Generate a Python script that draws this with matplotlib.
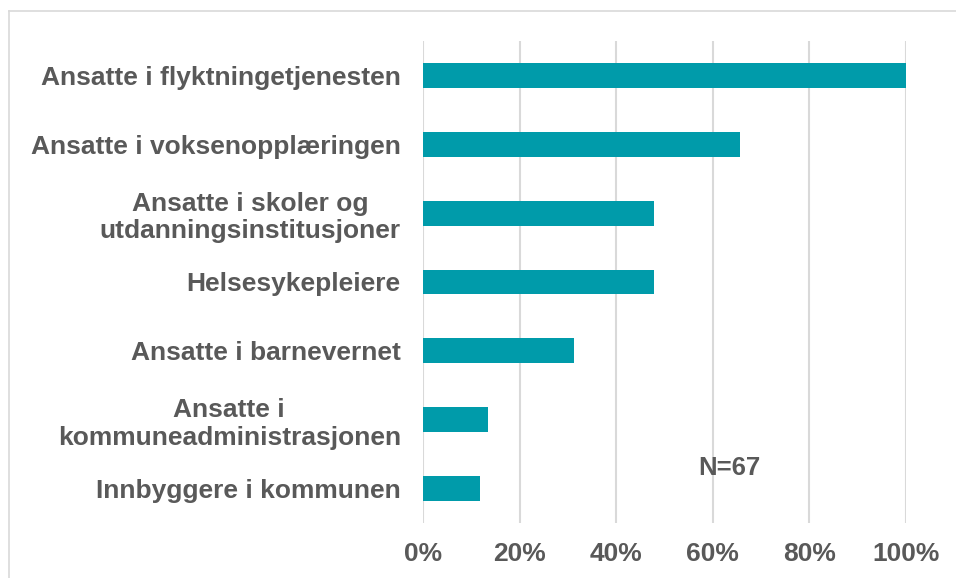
import matplotlib.pyplot as plt
from matplotlib.lines import Line2D

plt.rcParams['font.family'] = ['Liberation Sans', 'DejaVu Sans']

categories = ['Ansatte i flyktningetjenesten',
              'Ansatte i voksenopplæringen',
              'Ansatte i skoler og\nutdanningsinstitusjoner',
              'Helsesykepleiere',
              'Ansatte i barnevernet',
              'Ansatte i\nkommuneadministrasjonen',
              'Innbyggere i kommunen']
values = [100.0, 65.7, 47.8, 47.8, 31.3, 13.4, 11.9]
xticks = [0, 20, 40, 60, 80, 100]
note = 'N=67'

GREY = '#595959'
BAR = '#009BAA'

fig = plt.figure(figsize=(9.56, 5.78), dpi=100)
ax = fig.add_axes([423 / 956, 1 - 523 / 578, (906 - 423) / 956, (523 - 41) / 578])

y = range(len(categories))
ax.barh(y, values, height=0.36, color=BAR, zorder=3)
ax.set_ylim(len(categories) - 0.5, -0.5)
ax.set_xlim(0, 100)

ax.set_yticks(list(y))
ax.set_yticklabels(categories, fontsize=19, fontweight='bold', color=GREY,
                   ha='right', multialignment='center')
ax.set_xticks(xticks)
ax.set_xticklabels([f'{t}%' for t in xticks], fontsize=19, fontweight='bold', color=GREY)
ax.tick_params(axis='both', length=0)
ax.tick_params(axis='y', pad=16)
ax.tick_params(axis='x', pad=14)

ax.grid(axis='x', color='#d9d9d9', linewidth=1.5, zorder=0)
for s in ax.spines.values():
    s.set_visible(False)

ax.text(63.5, 5.7, note, fontsize=18.5, fontweight='bold', color=GREY,
        ha='center', va='center')

# frame around the chart (top and left edges visible)
fig.add_artist(Line2D([8.5 / 956, 1], [1 - 11 / 578, 1 - 11 / 578],
                      transform=fig.transFigure, color='#d9d9d9', linewidth=1.2))
fig.add_artist(Line2D([8.5 / 956, 8.5 / 956], [0, 1 - 11 / 578],
                      transform=fig.transFigure, color='#d9d9d9', linewidth=1.2))

fig.savefig('out.png', dpi=100)
